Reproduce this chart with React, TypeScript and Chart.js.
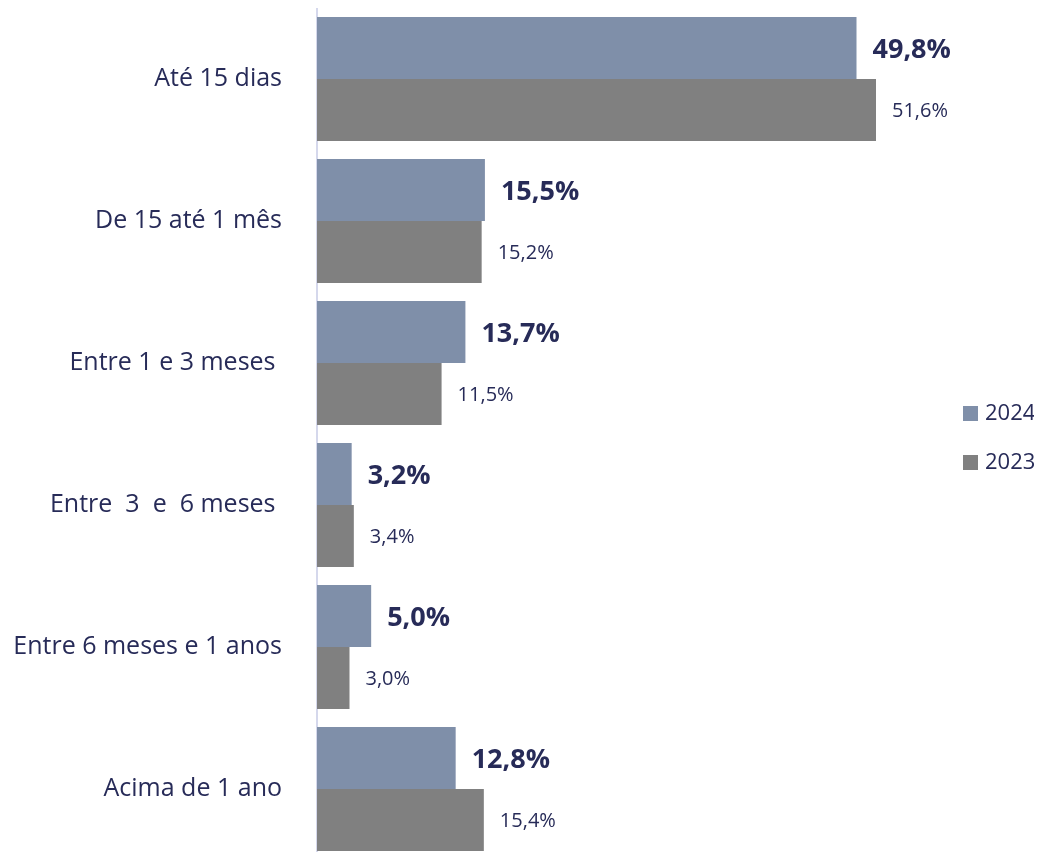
import React, { useEffect, useRef } from "react";
import { Chart, registerables } from "chart.js";

Chart.register(...registerables);

const categories = [
  "Até 15 dias",
  "De 15 até 1 mês",
  "Entre 1 e 3 meses ",
  "Entre  3  e  6 meses ",
  "Entre 6 meses e 1 anos",
  "Acima de 1 ano",
];
const series2024 = [49.8, 15.5, 13.7, 3.2, 5.0, 12.8];
const series2023 = [51.6, 15.2, 11.5, 3.4, 3.0, 15.4];
const seriesNames = ["2024", "2023"];

const TEXT = "#272b58";
const BLUE = "#7f8fa9";
const GRAY = "#808080";
const FONT = "'Open Sans', sans-serif";

const fmt = (v: number) => v.toFixed(1).replace(".", ",") + "%";

const labelPlugin = {
  id: "barLabels",
  afterDatasetsDraw(chart: any) {
    const ctx = chart.ctx;
    ctx.save();
    ctx.fillStyle = TEXT;
    ctx.textBaseline = "middle";
    ctx.textAlign = "left";
    chart.data.datasets.forEach((ds: any, di: number) => {
      const meta = chart.getDatasetMeta(di);
      meta.data.forEach((bar: any, i: number) => {
        const v = ds.data[i];
        if (di === 0) {
          ctx.font = `bold 27px ${FONT}`;
          ctx.fillText(fmt(v), bar.x + 16, bar.y + 2);
        } else {
          ctx.font = `normal 20px ${FONT}`;
          ctx.fillText(fmt(v), bar.x + 16, bar.y + 1);
        }
      });
    });
    ctx.restore();
  },
};

const legendPlugin = {
  id: "customLegend",
  afterDraw(chart: any) {
    const ctx = chart.ctx;
    ctx.save();
    const items = [
      { name: seriesNames[0], color: BLUE, y: 398 },
      { name: seriesNames[1], color: GRAY, y: 447 },
    ];
    ctx.font = `normal 22px ${FONT}`;
    ctx.textBaseline = "middle";
    ctx.textAlign = "left";
    items.forEach((it) => {
      ctx.fillStyle = it.color;
      ctx.fillRect(955, it.y, 15, 15);
      ctx.fillStyle = TEXT;
      ctx.fillText(it.name, 977, it.y + 8);
    });
    ctx.restore();
  },
};

export default function App() {
  const ref = useRef<HTMLCanvasElement | null>(null);
  useEffect(() => {
    if (!ref.current) return;
    const chart = new Chart(ref.current, {
      type: "bar",
      data: {
        labels: categories,
        datasets: [
          {
            label: seriesNames[0],
            data: series2024,
            backgroundColor: BLUE,
            borderWidth: 0,
            categoryPercentage: 0.873,
            barPercentage: 1,
          },
          {
            label: seriesNames[1],
            data: series2023,
            backgroundColor: GRAY,
            borderWidth: 0,
            categoryPercentage: 0.873,
            barPercentage: 1,
          },
        ],
      },
      options: {
        indexAxis: "y",
        animation: false,
        responsive: false,
        maintainAspectRatio: false,
        layout: { padding: { top: 0, bottom: 0, left: 0, right: 75 } },
        plugins: {
          legend: { display: false },
          tooltip: { enabled: false },
        },
        scales: {
          x: {
            display: false,
            min: 0,
            max: 60,
          },
          y: {
            grid: { display: false, drawTicks: false },
            border: { display: true, color: "#d5d8ec", width: 2 },
            ticks: {
              color: TEXT,
              font: { family: FONT, size: 25 },
              padding: 35,
            },
            afterFit(scale: any) {
              scale.width = 309;
              scale.paddingTop = 0;
              scale.paddingBottom = 0;
            },
          },
        },
      },
      plugins: [labelPlugin, legendPlugin],
    });
    return () => chart.destroy();
  }, []);
  return (
    <div style={{ width: 1034, height: 852 }}>
      <canvas ref={ref} width={1034} height={852} style={{ display: "block" }} />
    </div>
  );
}
